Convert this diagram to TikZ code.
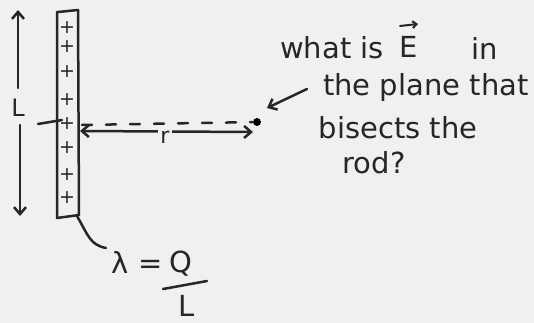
\documentclass[tikz,border=0pt]{standalone}
\usepackage{fontspec}
\setmainfont{DejaVu Sans}
\usetikzlibrary{arrows.meta}
\begin{document}
\begin{tikzpicture}[x=1pt,y=-1pt,
  >={Straight Barb[length=7pt,width=12pt]},
  ink/.style={line width=2.5pt,draw=black!85,line cap=round,line join=round},
  txt/.style={font=\fontsize{29}{32}\selectfont,text=black!85,inner sep=0pt},
  plus/.style={font=\fontsize{19}{19}\selectfont,text=black!85,inner sep=0pt}]
\fill[black!6] (0,0) rectangle (534,323);
\useasboundingbox (0,0) rectangle (534,323);
% rod
\draw[ink] (57,12) -- (57,218) -- (79,215) -- (78,10) -- (58,12);
\foreach \y/\n in {28/1,47/2,72/3,100/4,124/5,148/6,175/7,198/8}
  \node[plus] (p\n) at (67,\y) {+};
% length arrows
\coordinate (lt) at (18,10);
\coordinate (lm1) at (18,88);
\coordinate (lm2) at (20,125);
\coordinate (lb) at (20,216);
\draw[ink,->] (lm1) -- (lt);
\draw[ink,->] (lm2) -- (lb);
\node[txt,font=\fontsize{24}{24}\selectfont] (L) at (18,108) {L};
\coordinate (tk1) at (38,124);
\coordinate (tk2) at (62,120);
\draw[ink] (tk1) -- (tk2);
% point and dashed line
\node[circle,fill=black,inner sep=2.8pt] (pt) at (257,122) {};
\coordinate (rodmid) at (82,125);
\draw[ink,dash pattern=on 10pt off 14pt] (rodmid) -- (pt);
% r arrow
\coordinate (ra) at (80,131);
\coordinate (rb) at (253,132);
\draw[ink,<->] (ra) -- (rb);
\node[txt,fill=black!6,inner sep=2pt,font=\fontsize{22}{22}\selectfont] (r) at (165,137) {r};
% question
\node[txt,anchor=west] (q1a) at (280,48) {what is};
\node[txt,anchor=base] (q1b) at (409,58) {E};
\coordinate (ea) at (400,26);
\coordinate (eb) at (418,24);
\draw[line width=2pt,draw=black!85,line cap=round,-{Straight Barb[length=4pt,width=7pt]}] (ea) -- (eb);
\node[txt] (q1c) at (485,48) {in};
\node[txt,anchor=west] (q2) at (323,88) {the plane that};
\node[txt] (q3) at (398,128) {bisects the};
\node[txt] (q4) at (374,163) {rod?};
\coordinate (qa) at (307,89);
\draw[ink,->] (qa) -- (267,108);
% lambda
\coordinate (lc1) at (77,216);
\coordinate (lc2) at (106,248);
\draw[ink] (lc1) .. controls (88,235) and (90,245) .. (lc2);
\node[txt] (lam) at (137,262) {λ =};
\node[txt] (Q) at (181,264) {Q};
\node[txt] (Ld) at (187,306) {L};
\draw[ink] (163,289) -- (207,281);
\end{tikzpicture}
\end{document}
